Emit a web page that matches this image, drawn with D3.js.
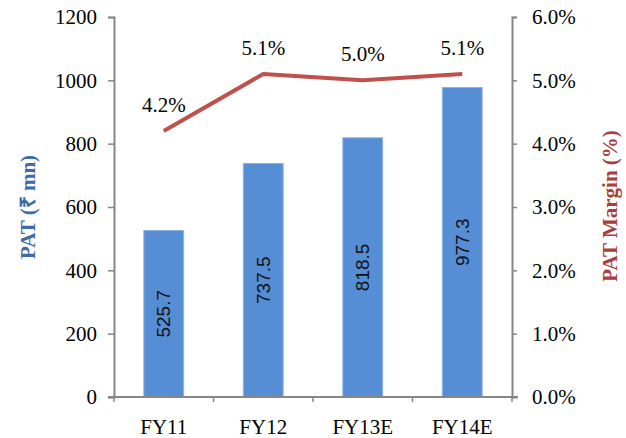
<!DOCTYPE html>
<html>
<head>
<meta charset="utf-8">
<script src="https://cdn.jsdelivr.net/npm/d3@7"></script>
<style>
  html, body { margin: 0; padding: 0; background: #fff; }
  svg { display: block; }
</style>
</head>
<body>
<svg id="chart" width="626" height="438"></svg>
<script>
// PAT and PAT margin by fiscal year
const categories = ["FY11", "FY12", "FY13E", "FY14E"];
const patValues = [525.7, 737.5, 818.5, 977.3];
const marginValues = [4.2, 5.1, 5.0, 5.1];
const leftTicks = [0, 200, 400, 600, 800, 1000, 1200];
const rightTicks = [0, 1, 2, 3, 4, 5, 6];

const svg = d3.select("#chart");
const m = { left: 114, right: 512, top: 17, bottom: 397 };
const axisColor = "#868686";
const SERIF = "Liberation Serif";
const SANS = "Liberation Sans";
const midY = (m.top + m.bottom) / 2 + 0;

const x = d3.scaleBand().domain(categories).range([m.left, m.right]).paddingInner(0.6).paddingOuter(0.3);
const xOuter = d3.scaleBand().domain(categories).range([m.left, m.right]);
const yL = d3.scaleLinear().domain([0, 1200]).range([m.bottom, m.top]);
const yR = d3.scaleLinear().domain([0, 6]).range([m.bottom, m.top]);

// Bars
svg.append("g").selectAll("rect").data(categories).join("rect")
  .attr("x", d => x(d))
  .attr("y", (d, i) => yL(patValues[i]))
  .attr("width", x.bandwidth())
  .attr("height", (d, i) => yL(0) - yL(patValues[i]))
  .attr("fill", "#558ED5")
  .attr("stroke", "#8DB3E2")
  .attr("stroke-width", 1);

// Bar value labels, rotated, centred in each bar
svg.append("g").selectAll("text").data(categories).join("text")
  .style("font-family", SANS)
  .attr("transform", (d, i) => {
    const cx = x(d) + x.bandwidth() / 2;
    const cy = (yL(patValues[i]) + yL(0)) / 2;
    return `translate(${cx},${cy}) rotate(-90)`;
  })
  .attr("text-anchor", "middle")
  .attr("dominant-baseline", "central")
  .attr("font-size", 19)
  .attr("fill", "#111")
  .text((d, i) => patValues[i].toFixed(1));

// Left axis
const gL = svg.append("g").attr("transform", `translate(${m.left},0)`)
  .call(d3.axisLeft(yL).tickValues(leftTicks).tickSize(6).tickPadding(11).tickFormat(d3.format("d")));
// Right axis
const gR = svg.append("g").attr("transform", `translate(${m.right},0)`)
  .call(d3.axisRight(yR).tickValues(rightTicks).tickSize(5).tickPadding(15).tickFormat(d => d.toFixed(1) + "%"));
// Bottom axis with ticks on category boundaries
const gB = svg.append("g").attr("transform", `translate(0,${m.bottom})`)
  .call(d3.axisBottom(xOuter).tickSize(0).tickPadding(22));
gB.selectAll(".boundary").data([m.left, ...categories.map(c => xOuter(c) + xOuter.bandwidth())]).join("line")
  .attr("class", "boundary")
  .attr("x1", d => d).attr("x2", d => d)
  .attr("y1", 0).attr("y2", 5)
  .attr("stroke", axisColor).attr("stroke-width", 1.5);

[gL, gR, gB].forEach(g => {
  g.select(".domain").attr("stroke", axisColor).attr("stroke-width", 2);
  g.selectAll(".tick line").attr("stroke", axisColor).attr("stroke-width", 1.5);
  g.selectAll(".tick text").style("font-family", SERIF).style("font-size", "21px").attr("fill", "#000");
});
gB.select(".domain").attr("d", `M${m.left - 6},0H${m.right + 6}`);

// Margin line
const line = d3.line()
  .x((d, i) => xOuter(categories[i]) + xOuter.bandwidth() / 2)
  .y(d => yR(d));
svg.append("path").datum(marginValues)
  .attr("d", line)
  .attr("fill", "none")
  .attr("stroke", "#C0504D")
  .attr("stroke-width", 4)
  .attr("stroke-linejoin", "round");

// Margin labels above points
svg.append("g").selectAll("text").data(marginValues).join("text")
  .style("font-family", SERIF)
  .attr("x", (d, i) => xOuter(categories[i]) + xOuter.bandwidth() / 2)
  .attr("y", d => yR(d) - 19)
  .attr("text-anchor", "middle")
  .attr("font-size", 21)
  .attr("fill", "#000")
  .text(d => d.toFixed(1) + "%");

// Axis titles
svg.append("text")
  .style("font-family", SERIF)
  .attr("transform", `translate(35,${midY}) rotate(-90)`)
  .attr("text-anchor", "middle")
  .attr("font-weight", "bold")
  .attr("font-size", 21)
  .attr("fill", "#3E6BA5")
  .text("PAT (₹ mn)");

svg.append("text")
  .style("font-family", SERIF)
  .attr("transform", `translate(617,${midY - 1}) rotate(-90)`)
  .attr("text-anchor", "middle")
  .attr("font-weight", "bold")
  .attr("font-size", 21)
  .attr("fill", "#A83F3C")
  .text("PAT Margin (%)");
</script>
</body>
</html>
